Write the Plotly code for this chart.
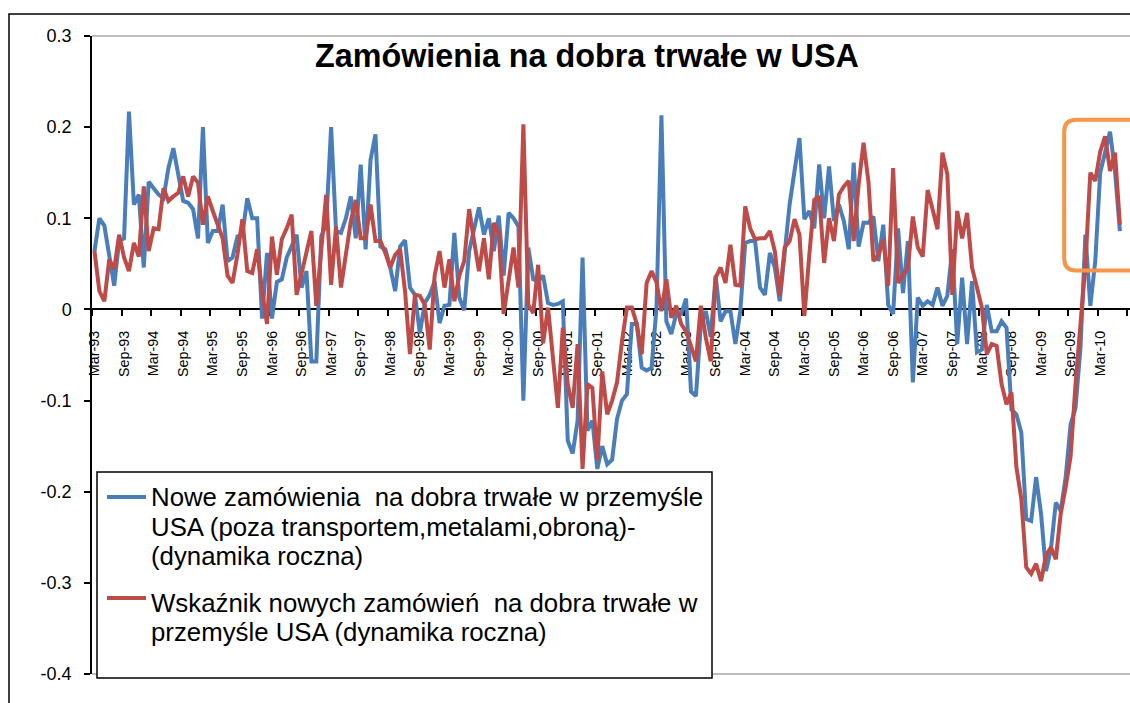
import plotly.graph_objects as go
import pandas as pd

# ---------------- data ----------------
months = pd.date_range("1993-03-01", "2010-07-01", freq="MS")
categories = [d.strftime("%b-%y") for d in months]
month_idx = list(range(len(categories)))

blue_vals = [
    0.064, 0.100, 0.092, 0.060, 0.026, 0.075, 0.078, 0.217, 0.115, 0.126,
    0.046, 0.140, 0.133, 0.126, 0.122, 0.155, 0.177, 0.148, 0.119, 0.117,
    0.110, 0.078, 0.200, 0.073, 0.086, 0.086, 0.115, 0.053, 0.057, 0.080,
    0.082, 0.122, 0.100, 0.100, -0.010, 0.062, -0.010, 0.030, 0.033, 0.057,
    0.070, 0.082, 0.024, 0.042, -0.057, -0.057, 0.080, 0.093, 0.200, 0.086,
    0.084, 0.100, 0.124, 0.078, 0.159, 0.066, 0.164, 0.192, 0.069, 0.066,
    0.046, 0.020, 0.069, 0.076, 0.024, 0.016, -0.026, 0.007, 0.016, 0.031,
    -0.015, 0.004, 0.005, 0.084, 0.013, -0.001, 0.064, 0.086, 0.112, 0.082,
    0.100, 0.064, 0.103, 0.037, 0.106, 0.100, 0.091, -0.100, 0.068, 0.033,
    0.031, 0.037, 0.007, 0.005, 0.006, 0.009, -0.144, -0.158, -0.122, 0.057,
    -0.133, -0.122, -0.175, -0.150, -0.170, -0.165, -0.120, -0.100, -0.093, -0.016,
    -0.016, -0.064, -0.067, -0.064, 0.002, 0.213, -0.013, -0.027, -0.005, -0.005,
    0.012, -0.090, -0.095, -0.016, -0.002, -0.030, 0.037, -0.013, -0.002, -0.002,
    -0.038, -0.002, 0.073, 0.075, 0.075, 0.024, 0.016, 0.062, 0.046, 0.009,
    0.068, 0.115, 0.152, 0.188, 0.099, 0.108, 0.089, 0.159, 0.100, 0.157,
    0.097, 0.115, 0.097, 0.066, 0.161, 0.069, 0.095, 0.095, 0.102, 0.053,
    0.093, 0.005, -0.005, 0.089, 0.018, 0.075, -0.080, 0.013, 0.004, 0.009,
    0.005, 0.024, 0.004, 0.015, 0.066, -0.038, 0.035, -0.038, 0.031, -0.047,
    -0.044, 0.005, -0.024, -0.024, -0.013, -0.020, -0.110, -0.115, -0.135, -0.230,
    -0.232, -0.184, -0.224, -0.287, -0.263, -0.212, -0.221, -0.184, -0.126, -0.108,
    -0.042, 0.082, 0.004, 0.053, 0.150, 0.173, 0.195, 0.152, 0.086,
]

red_vals = [
    0.064, 0.020, 0.009, 0.055, 0.044, 0.082, 0.057, 0.042, 0.073, 0.058,
    0.135, 0.064, 0.089, 0.088, 0.133, 0.119, 0.124, 0.128, 0.146, 0.124,
    0.146, 0.139, 0.093, 0.124, 0.108, 0.093, 0.078, 0.037, 0.029, 0.060,
    0.099, 0.042, 0.040, 0.066, 0.020, -0.016, 0.080, 0.038, 0.077, 0.089,
    0.104, 0.016, 0.038, 0.064, 0.086, 0.004, 0.071, 0.126, 0.027, 0.091,
    0.024, 0.063, 0.097, 0.120, 0.078, 0.078, 0.115, 0.075, 0.075, 0.062,
    0.046, 0.060, 0.066, 0.020, -0.049, 0.016, 0.015, 0.005, -0.044, 0.037,
    0.064, 0.024, 0.055, 0.009, 0.037, 0.053, 0.110, 0.075, 0.042, 0.078,
    0.033, 0.095, 0.084, -0.005, 0.035, 0.068, 0.024, 0.203, 0.005, -0.004,
    0.049, -0.037, 0.002, -0.057, -0.108, -0.020, -0.082, -0.108, -0.038, -0.175,
    -0.082, -0.086, -0.166, -0.068, -0.115, -0.100, -0.080, -0.035, 0.002, 0.002,
    -0.016, -0.049, 0.029, 0.042, 0.030, -0.002, 0.033, -0.009, 0.004, -0.016,
    -0.024, -0.040, -0.057, 0.004, -0.031, -0.057, 0.035, 0.046, 0.029, 0.071,
    0.027, 0.026, 0.113, 0.089, 0.077, 0.078, 0.078, 0.086, 0.064, 0.015,
    0.068, 0.075, 0.099, 0.082, -0.007, 0.060, 0.120, 0.124, 0.051, 0.100,
    0.075, 0.126, 0.135, 0.141, 0.075, 0.137, 0.183, 0.140, 0.053, 0.060,
    0.077, 0.026, 0.155, 0.029, 0.037, 0.046, 0.102, 0.068, 0.058, 0.131,
    0.110, 0.088, 0.172, 0.148, 0.016, 0.108, 0.078, 0.106, 0.046, 0.024,
    0.002, -0.049, -0.038, -0.040, -0.082, -0.104, -0.091, -0.173, -0.208, -0.283,
    -0.290, -0.279, -0.298, -0.270, -0.261, -0.274, -0.224, -0.195, -0.161, -0.082,
    -0.013, 0.049, 0.150, 0.141, 0.173, 0.190, 0.152, 0.172, 0.093,
]

tick_labels = [d.strftime("%b-%y") for d in pd.date_range("1993-03-01", "2010-09-01", freq="6MS")]
y_ticks = [0.3, 0.2, 0.1, 0.0, -0.1, -0.2, -0.3, -0.4]
y_ticktext = ["0.3", "0.2", "0.1", "0", "-0.1", "-0.2", "-0.3", "-0.4"]

title_text = "Zamówienia na dobra trwałe w USA"
series_names = [
    "Nowe zamówienia na dobra trwałe w przemyśle USA (poza transportem,metalami,obroną)-(dynamika roczna)",
    "Wskaźnik nowych zamówień na dobra trwałe w przemyśle USA (dynamika roczna)",
]
legend_lines = [
    ["Nowe zamówienia  na dobra trwałe w przemyśle",
     "USA (poza transportem,metalami,obroną)-",
     "(dynamika roczna)"],
    ["Wskaźnik nowych zamówień  na dobra trwałe w",
     "przemyśle USA (dynamika roczna)"],
]
colors = ["#4A7EBB", "#BE4B48"]

# highlight box (data units): months index range and value range
hl_x0, hl_x1, hl_y0, hl_y1 = 196.7, 214.0, 0.0427, 0.2081

# ---------------- geometry ----------------
W, H = 1130, 703
ML, MT, MB = 92, 36, 29
PW, PH = W - ML, H - MT - MB
PX_PER_MONTH = 4.93
x_range = [-0.5, -0.5 + PW / PX_PER_MONTH]
y_range = [-0.4, 0.3]


def px_x(p):
    return (p - ML) / PW


def px_y(p):
    return (H - MB - p) / PH


boundaries = [-0.5 + 6 * k for k in range(len(tick_labels))]
label_pos = [b + 0.5 for b in boundaries]

fig = go.Figure()
for name, vals, col in zip(series_names, [blue_vals, red_vals], colors):
    fig.add_trace(go.Scatter(x=month_idx, y=vals, mode="lines", name=name,
                             line=dict(color=col, width=4), showlegend=False,
                             customdata=categories))

zero_pos = (0 - y_range[0]) / (y_range[1] - y_range[0])

fig.update_layout(
    width=W, height=H,
    margin=dict(l=ML, r=0, t=MT, b=MB, pad=0),
    paper_bgcolor="white", plot_bgcolor="white",
    showlegend=False,
    xaxis=dict(
        range=x_range, anchor="free", position=zero_pos,
        showline=True, linecolor="black", linewidth=1.5,
        showgrid=False, zeroline=False,
        tickmode="array", tickvals=label_pos, ticktext=tick_labels,
        ticks="", tickangle=-90,
        tickfont=dict(family="Liberation Sans", size=14.3, color="black"),
        ticklabelstandoff=15,
        minor=dict(tickmode="array", tickvals=boundaries, ticks="outside",
                   ticklen=6, tickwidth=1.5, tickcolor="black", showgrid=False),
        layer="below traces",
    ),
    yaxis=dict(
        range=y_range, showline=True, linecolor="black", linewidth=1.5,
        showgrid=False, zeroline=False,
        tickmode="array", tickvals=y_ticks, ticktext=y_ticktext,
        ticks="outside", ticklen=6, tickwidth=1.5, tickcolor="black",
        tickfont=dict(family="Liberation Sans", size=18, color="black"),
        ticklabelstandoff=9,
    ),
)

shapes = []
# plot area gray borders (top & bottom)
for yy in (0, 1):
    shapes.append(dict(type="line", xref="paper", yref="paper", x0=0, x1=1.2, y0=yy, y1=yy,
                       line=dict(color="#A6A6A6", width=1.5), layer="below"))
# outer chart border
shapes.append(dict(type="rect", xref="paper", yref="paper",
                   x0=px_x(9), x1=1.3, y0=-0.3, y1=px_y(14),
                   line=dict(color="black", width=1.5), fillcolor="rgba(0,0,0,0)"))
# orange rounded highlight box
rx = 12 / PX_PER_MONTH
ry = 12 / (PH / (y_range[1] - y_range[0]))
path = (f"M {hl_x0 + rx},{hl_y1} L {hl_x1 - rx},{hl_y1} Q {hl_x1},{hl_y1} {hl_x1},{hl_y1 - ry} "
        f"L {hl_x1},{hl_y0 + ry} Q {hl_x1},{hl_y0} {hl_x1 - rx},{hl_y0} "
        f"L {hl_x0 + rx},{hl_y0} Q {hl_x0},{hl_y0} {hl_x0},{hl_y0 + ry} "
        f"L {hl_x0},{hl_y1 - ry} Q {hl_x0},{hl_y1} {hl_x0 + rx},{hl_y1} Z")
shapes.append(dict(type="path", xref="x", yref="y", path=path,
                   line=dict(color="#F79646", width=4), layer="above"))
# manual legend box
lg_l, lg_r, lg_t, lg_b = 97, 712, 472, 678
shapes.append(dict(type="rect", xref="paper", yref="paper",
                   x0=px_x(lg_l), x1=px_x(lg_r), y0=px_y(lg_b), y1=px_y(lg_t),
                   line=dict(color="black", width=1.5), fillcolor="white", layer="above"))
sample_y = [497, 598]
for col, sy in zip(colors, sample_y):
    shapes.append(dict(type="line", xref="paper", yref="paper",
                       x0=px_x(107), x1=px_x(146), y0=px_y(sy), y1=px_y(sy),
                       line=dict(color=col, width=4), layer="above"))
fig.update_layout(shapes=shapes)

annotations = [dict(text=f"<b>{title_text}</b>", xref="paper", yref="paper",
                    x=px_x(587), y=px_y(56), xanchor="center", yanchor="middle",
                    showarrow=False, font=dict(family="Liberation Sans", size=32.3, color="black"))]
line_mid = [[497, 527, 556], [603, 632]]
for lines, mids in zip(legend_lines, line_mid):
    for txt, m in zip(lines, mids):
        annotations.append(dict(text=txt, xref="paper", yref="paper",
                                x=px_x(150), y=px_y(m), xanchor="left", yanchor="middle",
                                showarrow=False, borderpad=0,
                                font=dict(family="Liberation Sans", size=25.8, color="black")))
fig.update_layout(annotations=annotations)

fig.write_html("out.html", config={"displayModeBar": False},
               post_script="document.body.style.margin='0px';")
